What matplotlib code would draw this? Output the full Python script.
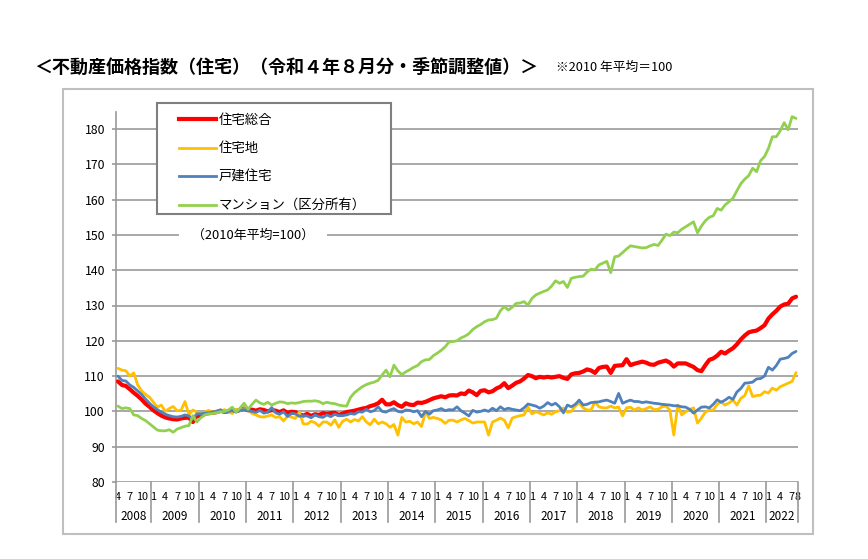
import matplotlib
matplotlib.use("Agg")
import matplotlib.pyplot as plt
from matplotlib.patches import Rectangle
from matplotlib.lines import Line2D
from matplotlib.transforms import ScaledTranslation

plt.rcParams['font.family'] = ['Noto Sans CJK JP', 'DejaVu Sans']

# ---------------- data (monthly, 2008-04 .. 2022-08, seasonally adjusted, 2010 avg = 100)
series_names = ["住宅総合", "住宅地", "戸建住宅", "マンション（区分所有）"]

housing_total = [
    108.5, 107.5, 107.2, 106.3, 105.3, 104.4, 103.4, 102.2, 101.3,                  # 2008 Apr-Dec
    100.3, 99.5, 98.8, 98.3, 98.0, 97.8, 97.7, 98.0, 98.2, 98.2, 97.0, 98.8,        # 2009
    98.6, 99.3, 99.5, 99.6, 99.8, 100.2, 99.9, 100.0, 100.3, 100.1, 100.4, 100.8,   # 2010
    100.3, 100.5, 100.2, 100.6, 100.4, 100.0, 100.4, 100.2, 99.8, 100.3, 99.6, 99.9,  # 2011
    99.8, 99.2, 98.8, 99.3, 98.7, 99.2, 99.0, 99.5, 99.3, 99.5, 99.6, 99.0,         # 2012
    99.4, 99.8, 100.0, 100.2, 100.5, 100.8, 101.0, 101.5, 101.8, 102.3, 103.3, 102.0,  # 2013
    102.0, 102.6, 101.8, 101.3, 102.3, 101.9, 101.8, 102.5, 102.4, 102.7, 103.2, 103.7,  # 2014
    104.0, 104.3, 104.0, 104.5, 104.6, 104.5, 105.1, 104.9, 105.9, 105.4, 104.6, 105.8,  # 2015
    106.0, 105.4, 105.7, 106.5, 107.0, 108.0, 106.6, 107.3, 108.1, 108.5, 109.3, 110.3,  # 2016
    110.0, 109.4, 109.8, 109.6, 109.8, 109.6, 109.8, 110.0, 109.5, 109.2, 110.5, 110.8,  # 2017
    110.9, 111.3, 111.9, 111.6, 110.9, 112.3, 112.6, 112.7, 110.9, 112.9, 113.0, 113.1,  # 2018
    114.8, 113.1, 113.5, 113.8, 114.1, 113.8, 113.3, 113.2, 113.8, 114.1, 114.4, 113.8,  # 2019
    112.7, 113.6, 113.6, 113.6, 113.1, 112.6, 111.7, 111.4, 113.1, 114.6, 115.0, 115.8,  # 2020
    116.9, 116.4, 117.2, 117.9, 119.0, 120.4, 121.5, 122.4, 122.7, 122.9, 123.6, 124.4,  # 2021
    126.3, 127.5, 128.5, 129.7, 130.3, 130.5, 132.0, 132.5,                          # 2022 Jan-Aug
]

residential_land = [
    112.2, 111.7, 111.5, 110.0, 110.9, 107.5, 105.8, 104.8, 104.0,
    102.6, 101.2, 101.8, 100.0, 100.8, 101.4, 100.2, 100.3, 102.8, 99.0, 100.4, 99.8,
    99.3, 99.8, 100.3, 99.7, 100.2, 99.8, 100.5, 100.0, 99.4, 100.6, 100.2, 100.8,
    100.5, 99.4, 99.0, 98.5, 98.4, 98.7, 99.0, 98.3, 98.5, 97.3, 98.6, 98.4,
    98.0, 99.8, 96.5, 96.4, 97.2, 96.8, 95.8, 97.0, 97.0, 96.1, 97.6, 95.5,
    97.2, 97.8, 97.0, 97.7, 97.3, 98.5, 97.0, 96.2, 97.8, 96.5, 97.0, 96.5,
    95.5, 96.3, 93.3, 98.3, 97.0, 97.2, 96.5, 97.0, 95.7, 99.9, 98.0, 98.3,
    98.0, 97.6, 96.6, 97.5, 97.5, 97.0, 97.6, 98.0, 97.4, 96.7, 97.0, 97.0,
    97.0, 93.3, 97.0, 97.5, 98.1, 97.5, 95.3, 98.1, 98.5, 98.8, 99.0, 101.3,
    99.3, 99.9, 99.5, 99.0, 99.6, 99.2, 99.9, 100.2, 101.0, 99.8, 100.0, 101.5,
    102.4, 101.0, 100.4, 100.4, 102.7, 101.3, 101.0, 101.0, 101.5, 101.0, 101.2, 98.7,
    101.0, 101.2, 100.4, 101.0, 100.4, 100.8, 101.3, 100.5, 100.6, 101.3, 101.5, 100.4,
    93.3, 101.8, 99.0, 99.9, 100.5, 101.0, 96.7, 98.1, 99.8, 100.4, 100.4, 102.0,
    102.7, 101.8, 102.4, 103.2, 101.8, 103.7, 104.5, 107.2, 104.2, 104.5, 104.6, 105.6,
    105.2, 106.6, 106.0, 107.0, 107.5, 108.0, 108.5, 111.0,
]

detached_house = [
    110.0, 108.8, 108.6, 107.5, 106.8, 105.8, 104.8, 103.5, 102.3,
    101.3, 100.5, 99.8, 99.2, 98.8, 98.5, 98.4, 98.6, 99.0, 98.7, 97.8, 99.3,
    99.3, 99.5, 99.6, 99.8, 100.0, 100.4, 99.8, 100.0, 100.2, 99.8, 100.3, 100.5,
    100.2, 100.0, 99.7, 100.3, 99.5, 99.8, 101.1, 99.6, 99.2, 99.9, 98.6, 99.4,
    99.3, 98.6, 98.8, 98.7, 98.2, 99.0, 98.5, 98.3, 99.0, 98.5, 99.2, 98.8,
    98.8, 99.0, 99.4, 99.2, 99.9, 99.8, 100.6, 99.9, 100.2, 101.3, 100.0, 99.8,
    100.4, 100.8, 100.0, 99.8, 100.4, 100.3, 99.9, 100.2, 98.5, 100.0, 99.2, 100.2,
    100.4, 100.8, 100.2, 100.5, 100.4, 101.3, 100.2, 99.5, 98.7, 100.3, 99.8, 100.0,
    100.4, 100.0, 100.9, 100.2, 101.3, 100.5, 100.9, 100.6, 100.4, 100.2, 101.0, 102.1,
    101.8, 101.5, 100.9, 101.5, 102.5, 101.8, 102.3, 101.3, 99.6, 101.8, 101.3, 102.0,
    103.2, 101.8, 102.0, 102.5, 102.6, 102.7, 103.0, 103.2, 102.8, 102.3, 105.1, 102.3,
    102.8, 103.2, 102.8, 102.8, 102.5, 102.7, 102.5, 102.3, 102.2, 102.0, 101.9, 101.8,
    101.6, 101.6, 101.3, 101.2, 100.6, 99.5, 100.4, 101.2, 101.3, 101.0, 102.0, 103.3,
    102.6, 103.2, 104.0, 103.4, 105.5, 106.5, 108.0, 108.1, 108.3, 109.2, 109.3, 110.0,
    112.5, 111.7, 113.0, 114.8, 115.0, 115.3, 116.4, 117.0,
]

condominium = [
    101.5, 100.8, 101.0, 100.8, 99.0, 98.8, 98.0, 97.4, 96.5,
    95.6, 94.7, 94.5, 94.5, 94.8, 94.1, 95.0, 95.4, 95.8, 96.0, 98.8, 97.0,
    98.2, 99.0, 99.3, 99.4, 99.6, 99.9, 100.0, 100.4, 101.2, 99.8, 101.0, 102.3,
    100.6, 102.0, 103.2, 102.4, 102.0, 102.6, 101.8, 102.3, 102.7, 102.6, 102.2, 102.4,
    102.3, 102.5, 102.8, 102.9, 102.9, 103.0, 102.8, 102.2, 102.6, 102.3, 102.2, 101.8,
    101.6, 101.5, 104.0, 105.3, 106.2, 107.0, 107.6, 108.0, 108.3, 108.8, 110.3, 111.7,
    109.8, 113.1, 111.5, 110.4, 111.2, 111.8, 112.5, 113.0, 114.1, 114.6, 114.7, 115.8,
    116.5, 117.3, 118.3, 119.7, 119.8, 120.0, 120.8, 121.3, 122.0, 123.2, 124.0, 124.6,
    125.4, 125.9, 126.0, 126.4, 128.5, 129.7, 128.7, 129.5, 130.6, 130.7, 131.1, 130.1,
    132.0, 133.0, 133.5, 134.0, 134.4, 135.5, 137.0, 136.3, 136.8, 135.1, 137.7, 138.0,
    138.2, 138.3, 139.5, 140.3, 140.1, 141.5, 142.0, 142.5, 139.3, 143.8, 144.0, 145.0,
    146.0, 146.9, 146.7, 146.5, 146.3, 146.4, 146.9, 147.3, 147.0, 148.5, 150.2, 149.8,
    150.8, 150.6, 151.6, 152.3, 153.0, 153.7, 150.6, 152.5, 154.0, 155.0, 155.4, 157.5,
    157.0, 158.5, 159.4, 160.4, 162.5, 164.5, 165.8, 166.8, 168.9, 167.9, 171.0, 172.2,
    174.5, 177.8, 177.8, 179.5, 181.8, 179.8, 183.5, 183.0,
]

series_values = [housing_total, residential_land, detached_house, condominium]
series_colors = ["#ff0000", "#ffc000", "#4f81bd", "#92d050"]
series_widths = [3.0, 2.0, 2.0, 2.0]

years = list(range(2008, 2023))
first_month = 4      # 2008-04
last_month = 8       # 2022-08
month_marks = [1, 4, 7, 10]
yticks = list(range(80, 181, 10))

title_text = "＜不動産価格指数（住宅）（令和４年８月分・季節調整値）＞"
note_text = "※2010 年平均＝100"
base_text = "（2010年平均=100）"

# ---------------- month axis
months = []
for y in years:
    m0 = first_month if y == years[0] else 1
    m1 = last_month if y == years[-1] else 12
    for m in range(m0, m1 + 1):
        months.append((y, m))
n = len(months)
xs = list(range(n))

W, H = 868, 559
fig = plt.figure(figsize=(W / 100, H / 100), dpi=100)
fig.patch.set_facecolor("white")

ax_l, ax_r, ax_t, ax_b = 116, 798, 112, 482
ax = fig.add_axes([ax_l / W, 1 - ax_b / H, (ax_r - ax_l) / W, (ax_b - ax_t) / H])
ymin, ymax = 80, 80 + (ax_b - ax_t) / 3.53
ax.set_xlim(-0.5, n - 0.5)
ax.set_ylim(ymin, ymax)

grid_c = "#999999"
for v in yticks:
    ax.axhline(v, color=grid_c, lw=1.2, zorder=1)

for vals, c, lw in zip(series_values, series_colors, series_widths):
    ax.plot(xs, vals, color=c, lw=lw, solid_joinstyle="round", solid_capstyle="round", zorder=3)

for s in ["top", "right", "bottom"]:
    ax.spines[s].set_visible(False)
ax.spines["left"].set_color(grid_c)
ax.spines["left"].set_linewidth(1.2)

ax.set_yticks(yticks)
ax.set_yticklabels([str(v) for v in yticks], fontsize=8.8)
ax.tick_params(axis="y", length=3, width=1.2, color=grid_c, pad=5)

# month labels
tick_pos, tick_lab = [], []
for i, (y, m) in enumerate(months):
    if m in month_marks or i == n - 1:
        tick_pos.append(i)
        tick_lab.append(str(m))
ax.set_xticks(tick_pos)
ax.set_xticklabels(tick_lab, fontsize=7.8)
ax.tick_params(axis="x", length=0, pad=7)
# last two labels ("7" and "8" of 2022) sit next to each other, as in the reference
xt = ax.get_xticklabels()
xt[-2].set_horizontalalignment("right")
xt[-2].set_transform(xt[-2].get_transform() + ScaledTranslation(2.5 / 100, 0, fig.dpi_scale_trans))
xt[-1].set_horizontalalignment("left")
xt[-1].set_transform(xt[-1].get_transform() + ScaledTranslation(-1.5 / 100, 0, fig.dpi_scale_trans))

# year separators and year labels
trans = ax.get_xaxis_transform()
bounds = [-0.5]
for i in range(1, n):
    if months[i][0] != months[i - 1][0]:
        bounds.append(i - 0.5)
bounds.append(n - 0.5)
sep_bottom = -(522 - ax_b) / (ax_b - ax_t)
for b in bounds:
    ax.plot([b, b], [0, sep_bottom], transform=trans, color=grid_c, lw=1.2, clip_on=False)
for k, y in enumerate(years):
    ax.text((bounds[k] + bounds[k + 1]) / 2, -(516 - ax_b) / (ax_b - ax_t), str(y),
            transform=trans, ha="center", va="center", fontsize=8.5)

# base note inside plot (covers the 150 gridline like the reference)
note_x = (253 - ax_l) / ((ax_r - ax_l) / n) - 0.5
ax.text(note_x, 150, base_text, ha="center", va="center", fontsize=9.3, zorder=4,
        bbox=dict(facecolor="white", edgecolor="none", pad=9))

# legend box
fig.add_artist(Rectangle((157 / W, 1 - 214 / H), (391 - 157) / W, (214 - 103) / H,
                         transform=fig.transFigure, facecolor="white",
                         edgecolor="#7f7f7f", lw=1.5, zorder=5))
handles = [Line2D([0], [0], color=c, lw=lw) for c, lw in zip(series_colors, series_widths)]
leg = fig.legend(handles, series_names, loc="upper left",
                 bbox_to_anchor=(179 / W, 1 - 113 / H), bbox_transform=fig.transFigure,
                 frameon=False, fontsize=9.6, handlelength=2.75, handletextpad=0.25,
                 labelspacing=1.08, borderpad=0, borderaxespad=0)
leg.set_zorder(6)

# outer border
fig.add_artist(Rectangle((63 / W, 1 - 534 / H), (813 - 63) / W, (534 - 89) / H,
                         transform=fig.transFigure, fill=False,
                         edgecolor="#bfbfbf", lw=1.5))

# titles
fig.text(34 / W, 1 - 67 / H, title_text, ha="left", va="center", fontsize=13,
         fontweight="bold")
fig.text(556 / W, 1 - 67 / H, note_text, ha="left", va="center", fontsize=9.2)

fig.savefig("out.png", dpi=100, facecolor="white")
